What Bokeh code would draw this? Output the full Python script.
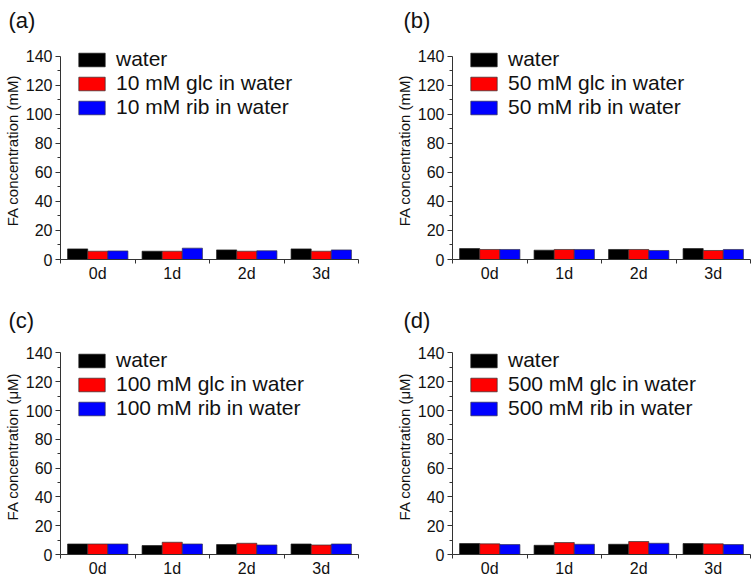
import numpy as np
from bokeh.plotting import figure
from bokeh.models import ColumnDataSource, FixedTicker, Range1d, Legend, LegendItem
from bokeh.transform import dodge
from bokeh.layouts import column, row
from bokeh.embed import file_html
from bokeh.resources import INLINE

days = ["0d", "1d", "2d", "3d"]

a_water = [7.3, 5.7, 6.6, 7.3]
a_glc = [5.7, 5.7, 5.7, 5.7]
a_rib = [5.9, 7.8, 6.0, 6.6]

b_water = [7.5, 6.4, 6.9, 7.5]
b_glc = [6.9, 6.9, 6.9, 6.2]
b_rib = [6.9, 6.9, 6.2, 6.9]

c_water = [7.3, 6.2, 6.9, 7.3]
c_glc = [7.3, 8.5, 7.8, 6.6]
c_rib = [7.3, 7.3, 6.6, 7.3]

d_water = [7.6, 6.4, 7.1, 7.6]
d_glc = [7.4, 8.3, 9.0, 7.4]
d_rib = [6.9, 7.1, 7.8, 6.9]

y_ticks = [0, 20, 40, 60, 80, 100, 120, 140]
y_minor = [10, 30, 50, 70, 90, 110, 130]
Y_AXIS_MAX = 140
Y_VIEW_MAX = 150   # headroom above the axis for the legend

panels = [
    ("(a)", "10 mM", "FA concentration (mM)", a_water, a_glc, a_rib),
    ("(b)", "50 mM", "FA concentration (mM)", b_water, b_glc, b_rib),
    ("(c)", "100 mM", "FA concentration (\u03bcM)", c_water, c_glc, c_rib),
    ("(d)", "500 mM", "FA concentration (\u03bcM)", d_water, d_glc, d_rib),
]

# layout (pixels): width, height, borders left/right/top/bottom, title x-offset, title standoff, legend dy
geom = [
    (376, 285, 60, 18, 40, 26, -52, 14, 79),
    (376, 285, 76, 2, 40, 26, -49, 14, 79),
    (376, 295, 60, 18, 53, 26, -52, 7, 82),
    (376, 295, 76, 2, 53, 26, -49, 7, 82),
]

FONT = "Liberation Sans"
colors = ["#000000", "#ff0000", "#0000ff"]
BW = 0.27

figs = []
for (lab, conc, ylab, w, g, r), (W, H, bl, br, bt, bb, toff, tst, ldy) in zip(panels, geom):
    x = np.arange(len(days)) + 0.5
    src = ColumnDataSource(dict(x=x, water=w, glc=g, rib=r))
    p = figure(width=W, height=H, output_backend="svg", toolbar_location=None,
               x_range=Range1d(0, len(days)), y_range=Range1d(0, Y_VIEW_MAX),
               min_border_left=bl, min_border_right=br, min_border_top=bt,
               min_border_bottom=bb, title=lab)
    p.title.text_font = FONT
    p.title.text_font_size = "22px"
    p.title.text_font_style = "normal"
    p.title.text_color = "#111111"
    p.title.align = "left"
    p.title.vertical_align = "top"
    p.title.offset = toff
    p.title.standoff = tst
    p.outline_line_color = None
    p.grid.visible = False
    p.background_fill_color = "white"

    frame_h = H - bt - bb

    r1 = p.vbar(x=dodge("x", -BW, range=p.x_range), top="water", width=BW, source=src,
                fill_color=colors[0], line_color="#202020", line_width=0.7)
    r2 = p.vbar(x=dodge("x", 0, range=p.x_range), top="glc", width=BW, source=src,
                fill_color=colors[1], line_color="#303030", line_width=0.7)
    r3 = p.vbar(x=dodge("x", BW, range=p.x_range), top="rib", width=BW, source=src,
                fill_color=colors[2], line_color="#303050", line_width=0.7)

    legend = Legend(items=[
        LegendItem(label="water", renderers=[r1]),
        LegendItem(label=f"{conc} glc in water", renderers=[r2]),
        LegendItem(label=f"{conc} rib in water", renderers=[r3]),
    ], location=(15, frame_h - ldy), orientation="vertical")
    legend.glyph_width = 33
    legend.glyph_height = 17
    legend.label_height = 17
    legend.label_standoff = 8
    legend.spacing = 0
    legend.padding = 0
    legend.margin = 0
    legend.border_line_color = None
    legend.background_fill_alpha = 0
    legend.label_text_font = FONT
    legend.label_text_font_size = "21px"
    legend.label_text_color = "#111111"
    p.add_layout(legend, "center")
    figs.append(p)

    xa = p.xaxis[0]
    xa.ticker = FixedTicker(ticks=list(x), minor_ticks=list(range(len(days) + 1)))
    xa.major_label_overrides = {float(xi): d for xi, d in zip(x, days)}
    xa.major_tick_line_color = None
    xa.major_tick_out = 0
    xa.major_tick_in = 0
    xa.minor_tick_out = 4
    xa.minor_tick_in = 0
    xa.major_label_standoff = 1
    xa.major_label_text_font = FONT
    xa.major_label_text_font_size = "16px"
    xa.major_label_text_color = "#111111"
    xa.axis_line_color = "#333333"
    xa.minor_tick_line_color = "#333333"

    ya = p.yaxis[0]
    ya.bounds = (0, Y_AXIS_MAX)
    ya.ticker = FixedTicker(ticks=y_ticks, minor_ticks=y_minor)
    ya.major_tick_out = 5
    ya.major_tick_in = 0
    ya.minor_tick_out = 3
    ya.minor_tick_in = 0
    ya.major_label_standoff = 3
    ya.major_label_text_font = FONT
    ya.major_label_text_font_size = "16px"
    ya.major_label_text_color = "#111111"
    ya.axis_line_color = "#333333"
    ya.major_tick_line_color = "#333333"
    ya.minor_tick_line_color = "#333333"
    ya.axis_label = ylab
    ya.axis_label_text_font = FONT
    ya.axis_label_text_font_size = "15px"
    ya.axis_label_text_font_style = "normal"
    ya.axis_label_text_color = "#111111"
    ya.axis_label_standoff = 2

layout = column(row(figs[0], figs[1]), row(figs[2], figs[3]))
open("out.html", "w").write(file_html(layout, INLINE))
